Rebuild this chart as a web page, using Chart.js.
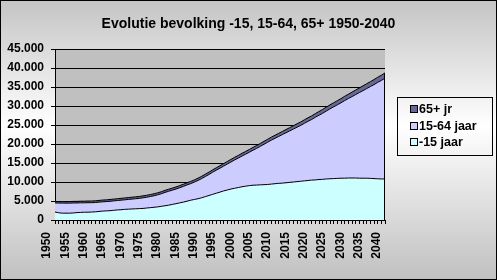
<!DOCTYPE html>
<html lang="nl">
<head>
<meta charset="UTF-8">
<title>Evolutie bevolking</title>
<script src="https://cdn.jsdelivr.net/npm/chart.js"></script>
<style>
  body { margin: 0; background: #fff; }
  #wrap { width: 497px; height: 280px; }
</style>
</head>
<body>
<div id="wrap"><canvas id="chart" width="497" height="280"></canvas></div>
<script>
const titel = 'Evolutie bevolking -15, 15-64, 65+ 1950-2040';

const jaren = [
  1950, 1951, 1952, 1953, 1954, 1955, 1956, 1957, 1958, 1959,
  1960, 1961, 1962, 1963, 1964, 1965, 1966, 1967, 1968, 1969,
  1970, 1971, 1972, 1973, 1974, 1975, 1976, 1977, 1978, 1979,
  1980, 1981, 1982, 1983, 1984, 1985, 1986, 1987, 1988, 1989,
  1990, 1991, 1992, 1993, 1994, 1995, 1996, 1997, 1998, 1999,
  2000, 2001, 2002, 2003, 2004, 2005, 2006, 2007, 2008, 2009,
  2010, 2011, 2012, 2013, 2014, 2015, 2016, 2017, 2018, 2019,
  2020, 2021, 2022, 2023, 2024, 2025, 2026, 2027, 2028, 2029,
  2030, 2031, 2032, 2033, 2034, 2035, 2036, 2037, 2038, 2039,
  2040
];

// -15 jaar
const jonger15 = [
  2100, 1900, 1800, 1800, 1800, 1850, 1950, 2000, 2050, 2050,
  2100, 2150, 2250, 2350, 2400, 2450, 2550, 2650, 2700, 2800,
  2850, 2900, 2950, 3000, 3050, 3150, 3250, 3350, 3450, 3600,
  3750, 3900, 4100, 4300, 4500, 4700, 4950, 5200, 5400, 5600,
  5850, 6150, 6450, 6750, 7050, 7350, 7650, 7900, 8150, 8350,
  8550, 8750, 8900, 9050, 9150, 9200, 9250, 9300, 9350, 9450,
  9550, 9650, 9700, 9800, 9900, 10000, 10100, 10200, 10300, 10400,
  10500, 10550, 10650, 10700, 10800, 10850, 10900, 10950, 11000, 11000,
  11050, 11050, 11050, 11000, 11000, 11000, 10950, 10900, 10850, 10800,
  10800
];

// 15-64 jaar
const midden = [
  2400, 2550, 2650, 2640, 2640, 2630, 2530, 2520, 2470, 2510,
  2460, 2450, 2450, 2440, 2440, 2480, 2480, 2470, 2520, 2510,
  2560, 2600, 2650, 2690, 2790, 2830, 2930, 3020, 3170, 3310,
  3510, 3650, 3750, 3840, 3990, 4130, 4280, 4370, 4570, 4810,
  5050, 5290, 5530, 5820, 6060, 6300, 6540, 6830, 7120, 7460,
  7750, 8090, 8430, 8770, 9210, 9650, 10140, 10630, 11120, 11560,
  11950, 12335, 12770, 13155, 13540, 13925, 14310, 14695, 15130, 15565,
  15950, 16480, 16910, 17390, 17870, 18400, 18880, 19360, 19840, 20420,
  20900, 21425, 21950, 22525, 23050, 23575, 24150, 24725, 25350, 25925,
  26500
];

// 65+ jr
const ouder65 = [
  400, 400, 400, 410, 410, 420, 420, 430, 430, 440,
  440, 450, 450, 460, 460, 470, 470, 480, 480, 490,
  490, 500, 500, 510, 510, 520, 520, 530, 530, 540,
  540, 550, 550, 560, 560, 570, 570, 580, 580, 590,
  600, 610, 620, 630, 640, 650, 660, 670, 680, 690,
  700, 710, 720, 730, 740, 750, 760, 770, 780, 790,
  800, 815, 830, 845, 860, 875, 890, 905, 920, 935,
  950, 970, 990, 1010, 1030, 1050, 1070, 1090, 1110, 1130,
  1150, 1175, 1200, 1225, 1250, 1275, 1300, 1325, 1350, 1375,
  1400
];

const FONT = '"Liberation Sans", Arial, sans-serif';

// achtergrond, plotvlak, titel en rand
const achtergrond = {
  id: 'achtergrond',
  beforeDraw(chart) {
    const { ctx, width, height, chartArea: a } = chart;
    ctx.save();
    const g = ctx.createLinearGradient(0, 0, 0, height);
    g.addColorStop(0, '#c4c4c4');
    g.addColorStop(0.45, '#ffffff');
    g.addColorStop(1, '#c0c0c0');
    ctx.fillStyle = g;
    ctx.fillRect(0, 0, width, height);
    ctx.fillStyle = '#c0c0c0';
    ctx.fillRect(a.left, a.top, a.right - a.left, a.bottom - a.top);
    ctx.restore();
  },
  afterDraw(chart) {
    const { ctx, width, height } = chart;
    ctx.save();
    ctx.fillStyle = '#000';
    ctx.font = 'bold 14px ' + FONT;
    ctx.textAlign = 'center';
    ctx.textBaseline = 'middle';
    ctx.fillText(titel, width / 2, 24);
    ctx.strokeStyle = '#000';
    ctx.lineWidth = 1;
    ctx.strokeRect(0.5, 0.5, width - 1, height - 1);
    ctx.restore();
  }
};

// zwarte rechterrand van de gevulde vlakken
const rechterrand = {
  id: 'rechterrand',
  afterDatasetsDraw(chart) {
    const meta = chart.getDatasetMeta(chart.data.datasets.length - 1);
    const p = meta.data[meta.data.length - 1];
    const { ctx, chartArea: a } = chart;
    ctx.save();
    ctx.strokeStyle = '#000';
    ctx.lineWidth = 1;
    ctx.beginPath();
    ctx.moveTo(Math.round(p.x) - 0.5, a.bottom);
    ctx.lineTo(Math.round(p.x) - 0.5, p.y);
    ctx.stroke();
    ctx.restore();
  }
};

// legenda in Excel-stijl
const legenda = {
  id: 'legenda',
  afterDraw(chart) {
    const { ctx, chartArea: a } = chart;
    const x = a.right + 12, y = 97, w = 95, h = 58;
    ctx.save();
    ctx.strokeStyle = '#000';
    ctx.lineWidth = 1;
    ctx.strokeRect(x + 0.5, y + 0.5, w, h);
    ctx.font = 'bold 12.5px ' + FONT;
    ctx.textBaseline = 'middle';
    const sets = chart.data.datasets.slice().reverse();
    sets.forEach((ds, i) => {
      const cy = y + 12 + i * 16.7;
      ctx.fillStyle = ds.backgroundColor;
      ctx.fillRect(x + 14, Math.round(cy) - 3, 6, 6);
      ctx.strokeRect(x + 13.5, Math.round(cy) - 3.5, 7, 7);
      ctx.fillStyle = '#000';
      ctx.fillText(ds.label, x + 22, cy + 0.5);
    });
    ctx.restore();
  }
};

const lijn = {
  borderColor: '#000000',
  borderWidth: 1,
  pointRadius: 0,
  tension: 0
};

new Chart(document.getElementById('chart'), {
  type: 'line',
  data: {
    labels: jaren,
    datasets: [
      Object.assign({ label: '-15 jaar', data: jonger15, backgroundColor: '#CCFFFF', fill: 'origin' }, lijn),
      Object.assign({ label: '15-64 jaar', data: midden, backgroundColor: '#CCCCFF', fill: '-1' }, lijn),
      Object.assign({ label: '65+ jr', data: ouder65, backgroundColor: '#666699', fill: '-1' }, lijn)
    ]
  },
  options: {
    responsive: false,
    animation: false,
    layout: { padding: { left: 0, right: 112, top: 49, bottom: 0 } },
    plugins: {
      legend: { display: false },
      tooltip: { enabled: false },
      title: { display: false }
    },
    scales: {
      x: {
        offset: false,
        afterFit(scale) { scale.height = 60; },
        grid: { display: true, drawOnChartArea: false, color: '#000', tickLength: 4 },
        border: { color: '#000' },
        ticks: {
          autoSkip: false,
          maxRotation: 90,
          minRotation: 90,
          padding: 8,
          labelOffset: -8,
          color: '#000',
          font: { family: FONT, size: 12, weight: 'bold' },
          callback(value, index) {
            const j = jaren[index];
            return j % 5 === 0 ? String(j) : '';
          }
        }
      },
      y: {
        stacked: true,
        min: 0,
        max: 45000,
        afterFit(scale) { scale.width = 55; },
        grid: { color: '#000', tickLength: 4 },
        border: { color: '#000' },
        ticks: {
          stepSize: 5000,
          padding: 7,
          color: '#000',
          font: { family: FONT, size: 12, weight: 'bold' },
          callback(value) {
            return value.toLocaleString('de-DE');
          }
        }
      }
    }
  },
  plugins: [achtergrond, rechterrand, legenda]
});
</script>
</body>
</html>
